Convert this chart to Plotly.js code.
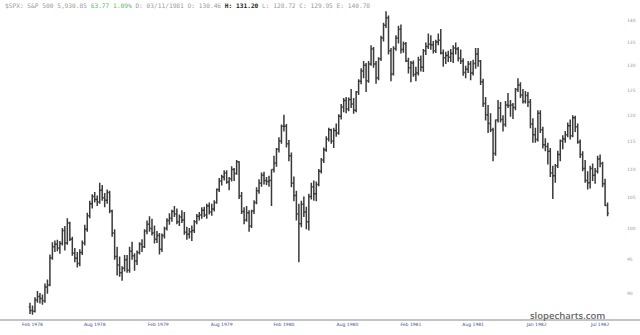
<!DOCTYPE html>
<html>
<head>
<meta charset="utf-8">
<script src="https://cdn.plot.ly/plotly-3.0.1.min.js"></script>
<style>html,body{margin:0;padding:0;background:#fff;}#chart{width:640px;height:335px;}</style>
</head>
<body>
<div id="chart"></div>
<script>
// Weekly OHLC of the S&P 500, week 0 = late Feb 1978
const openVals = [
88.0,87.5,87.4,89.0,89.5,89.2,88.9,90.9,91.2,95.3,
97.0,97.4,96.8,97.5,99.6,97.6,100.8,98.2,96.0,95.2,
94.4,96.1,97.6,99.8,102.0,104.0,105.2,104.7,104.3,106.3,
105.0,104.6,105.9,102.8,99.2,95.5,94.2,93.0,93.7,95.0,
93.4,96.3,95.6,94.8,96.1,97.4,97.0,99.5,100.6,99.9,
99.2,98.2,98.8,96.6,98.8,99.9,101.2,101.6,102.7,102.3,
101.0,101.8,101.3,99.3,99.0,99.4,99.6,101.0,101.9,102.1,
102.9,102.1,103.6,102.6,103.1,104.2,106.4,107.9,108.6,109.3,
107.7,108.3,109.9,109.2,111.3,105.3,102.7,101.3,102.5,100.3,
102.8,104.2,106.2,107.5,108.9,108.0,107.8,108.0,109.9,111.1,
113.6,115.1,117.9,117.9,114.6,112.4,107.5,105.4,102.3,100.7,
103.9,102.6,101.0,105.2,106.9,105.7,107.3,109.6,111.6,113.5,
115.5,117.2,115.1,117.1,116.6,119.8,121.6,122.9,121.2,123.1,
122.2,121.0,124.6,126.8,128.9,130.1,126.9,130.4,133.6,130.4,
127.5,131.5,136.0,138.8,140.5,133.2,128.3,133.7,136.0,137.9,
133.5,134.7,131.0,129.6,130.6,128.2,128.5,131.3,129.7,133.2,
134.1,134.6,134.5,133.2,135.1,135.5,132.7,131.7,132.2,131.8,
132.6,133.8,133.6,131.6,131.0,128.6,129.3,130.4,128.5,130.5,
132.5,131.0,126.7,122.3,120.1,118.4,117.2,112.8,119.1,121.4,
119.2,118.2,122.0,121.9,122.0,121.5,125.1,126.0,124.0,122.7,
123.9,122.6,118.3,116.3,115.4,120.4,117.2,114.4,114.1,113.2,
109.3,108.8,110.6,112.6,115.1,115.5,116.3,118.0,116.1,119.5,
117.8,114.9,112.6,110.1,108.0,107.6,110.1,108.9,109.6,111.8,
111.0,107.4,103.7];
const highVals = [
88.6,88.2,89.4,90.3,90.0,89.8,91.4,92.0,95.8,97.7,
98.0,98.1,97.9,100.0,100.3,101.6,101.0,98.6,96.8,96.2,
96.6,98.0,100.5,102.5,104.5,105.6,106.0,105.4,107.6,107.2,
105.8,106.4,106.2,103.0,99.8,97.0,95.5,94.0,95.7,95.7,
97.0,97.8,96.0,96.4,97.7,98.2,99.8,101.2,101.9,101.5,
100.4,99.5,99.2,99.1,100.2,101.6,102.4,103.0,103.6,103.2,
102.2,102.9,102.6,100.2,100.0,100.4,101.3,102.3,102.6,103.4,
103.5,104.0,104.2,104.0,104.6,106.6,108.4,109.0,109.8,109.8,
108.6,110.5,110.2,111.6,111.4,106.0,103.4,103.6,102.9,103.0,
104.6,106.8,108.2,109.4,109.5,108.6,108.8,109.9,112.4,113.8,
115.8,118.2,120.1,118.3,115.3,113.0,108.7,106.2,104.0,104.5,
105.2,103.5,105.7,107.6,108.0,107.8,110.0,112.0,113.9,116.0,
117.6,117.4,117.6,118.4,120.2,122.2,123.4,123.6,123.5,125.2,
123.4,124.8,127.2,129.5,131.0,130.6,131.0,134.4,134.0,131.0,
131.8,136.5,139.4,142.0,141.0,133.8,134.2,136.6,138.7,139.0,
135.2,135.1,131.7,131.0,131.1,129.8,131.9,132.2,133.6,135.0,
137.0,136.6,135.3,135.6,137.0,138.0,133.5,133.0,133.2,133.6,
134.4,135.0,134.0,133.5,131.6,130.0,131.0,131.0,131.3,133.8,
133.8,131.2,127.3,123.6,122.0,120.4,117.6,119.2,123.0,122.6,
120.0,122.8,124.4,123.0,122.4,125.4,127.4,126.6,125.2,124.8,
124.6,123.2,119.4,117.6,121.0,121.0,117.8,115.6,114.8,113.8,
110.6,110.9,113.3,115.4,116.2,117.0,118.6,119.2,120.0,119.9,
118.4,115.4,113.2,111.6,109.6,110.6,111.0,110.2,112.4,112.6,
111.3,108.3,104.2];
const lowVals = [
87.0,86.9,87.2,88.6,88.5,88.3,88.6,89.9,91.0,95.0,
96.2,96.3,95.9,97.2,96.4,97.3,97.9,95.6,94.6,93.8,
94.0,95.7,97.2,99.4,101.6,103.2,104.2,103.6,104.0,104.5,
103.4,104.0,102.4,98.6,95.0,92.6,92.4,91.8,93.2,93.0,
93.0,95.0,93.3,94.2,95.8,96.2,96.8,99.0,99.4,98.8,
97.5,97.6,95.8,96.2,98.3,99.6,100.5,101.0,101.8,100.6,
100.3,100.8,98.9,98.1,98.3,97.9,99.2,100.6,101.2,101.5,
101.8,101.5,102.2,102.0,102.7,104.0,106.0,107.1,108.0,107.4,
106.3,107.8,107.9,109.0,104.8,102.3,100.6,101.0,99.4,100.0,
102.3,103.9,105.7,106.9,107.3,107.2,106.9,103.6,109.4,110.4,
113.0,114.6,116.9,113.9,111.4,106.8,104.4,101.2,94.6,100.1,
101.8,99.8,99.6,104.7,104.5,104.4,107.0,109.2,111.1,113.1,
115.0,114.6,113.8,115.9,116.3,119.2,120.6,120.4,120.8,121.4,
120.3,120.6,124.0,126.2,127.4,124.6,126.5,130.0,129.6,126.3,
127.0,131.0,135.2,138.2,132.4,126.8,128.0,133.2,134.8,132.6,
132.8,130.8,128.4,126.6,127.7,126.8,128.0,128.8,128.7,132.3,
133.6,133.4,132.6,132.7,134.4,132.4,129.8,130.4,130.8,130.8,
130.6,132.4,130.9,130.4,127.9,127.4,128.5,127.0,128.0,129.4,
129.8,126.0,121.6,119.0,116.6,116.8,111.4,112.4,118.6,118.6,
116.9,117.8,121.4,119.7,119.3,121.0,124.6,123.4,122.3,122.3,
121.6,117.5,114.8,114.8,115.0,116.6,113.7,113.2,110.8,108.6,
104.8,107.6,110.2,111.4,113.6,114.8,115.8,115.4,115.8,116.8,
114.6,112.0,109.6,107.6,106.4,106.6,107.9,107.4,109.2,110.3,
106.8,103.6,101.9];
const closeVals = [
87.5,87.4,89.0,89.5,89.2,88.9,90.9,91.2,95.3,97.0,
97.4,96.8,97.5,99.6,97.6,100.8,98.2,96.0,95.2,94.4,
96.1,97.6,99.8,102.0,104.0,105.2,104.7,104.3,106.3,105.0,
104.6,105.9,102.8,99.2,95.5,94.2,93.0,93.7,95.0,93.4,
96.3,95.6,94.8,96.1,97.4,97.0,99.5,100.6,99.9,99.2,
98.2,98.8,96.6,98.8,99.9,101.2,101.6,102.7,102.3,101.0,
101.8,101.3,99.3,99.0,99.4,99.6,101.0,101.9,102.1,102.9,
102.1,103.6,102.6,103.1,104.2,106.4,107.9,108.6,109.3,107.7,
108.3,109.9,109.2,111.3,105.3,102.7,101.3,102.5,100.3,102.8,
104.2,106.2,107.5,108.9,108.0,107.8,108.0,109.9,111.1,113.6,
115.1,117.9,117.9,114.6,112.4,107.5,105.4,102.3,100.7,103.9,
102.6,101.0,105.2,106.9,105.7,107.3,109.6,111.6,113.5,115.5,
117.2,115.1,117.1,116.6,119.8,121.6,122.9,121.2,123.1,122.2,
121.0,124.6,126.8,128.9,130.1,126.9,130.4,133.6,130.4,127.5,
131.5,136.0,138.8,140.5,133.2,128.3,133.7,136.0,137.9,133.5,
134.7,131.0,129.6,130.6,128.2,128.5,131.3,129.7,133.2,134.1,
134.6,134.5,133.2,135.1,135.5,132.7,131.7,132.2,131.8,132.6,
133.8,133.6,131.6,131.0,128.6,129.3,130.4,128.5,130.5,132.5,
131.0,126.7,122.3,120.1,118.4,117.2,112.8,119.1,121.4,119.2,
118.2,122.0,121.9,122.0,121.5,125.1,126.0,124.0,122.7,123.9,
122.6,118.3,116.3,115.4,120.4,117.2,114.4,114.1,113.2,109.3,
108.8,110.6,112.6,115.1,115.5,116.3,118.0,116.1,119.5,117.8,
114.9,112.6,110.1,108.0,107.6,110.1,108.9,109.6,111.8,111.0,
107.4,103.7,102.4];

const xTickPos = [1, 26, 51.5, 77, 102, 127.5, 153, 178, 203.5, 229];
const xTickText = ['Feb 1978','Aug 1978','Feb 1979','Aug 1979','Feb 1980','Aug 1980','Feb 1981','Aug 1981','Jan 1982','Jul 1982'];
const yTickVals = [90, 95, 100, 105, 110, 115, 120, 125, 130, 135, 140];

const weekIdx = closeVals.map((_, i) => i);

const trace = {
  type: 'ohlc',
  x: weekIdx,
  open: openVals, high: highVals, low: lowVals, close: closeVals,
  increasing: {line: {color: '#3a3a3a', width: 1.5}},
  decreasing: {line: {color: '#3a3a3a', width: 1.5}},
  tickwidth: 0.5,
  hoverinfo: 'skip',
  showlegend: false
};

const header = "$SPX: S&P 500 5,930.85 <span style='color:#5cb85c'>63.77 1.09%</span> D: 03/11/1981 O: 130.46 <b><span style='color:#222'>H: 131.20</span></b> L: 128.72 C: 129.95 E: 140.78";

const layout = {
  width: 640, height: 335,
  margin: {l: 0, r: 14, t: 10, b: 15},
  paper_bgcolor: '#ffffff', plot_bgcolor: '#ffffff',
  showlegend: false,
  xaxis: {
    range: [-12.05, 239.4],
    tickmode: 'array', tickvals: xTickPos, ticktext: xTickText,
    showgrid: false, zeroline: false, showline: false, ticks: '',
    tickfont: {family: 'DejaVu Sans', size: 4.5, color: '#3b4f8f'},
    rangeslider: {visible: false}, fixedrange: true
  },
  yaxis: {
    type: 'log', side: 'right',
    range: [1.935318, 2.153155],
    tickmode: 'array', tickvals: yTickVals, ticktext: yTickVals.map(String),
    showgrid: false, zeroline: false, showline: false, ticks: '',
    tickfont: {family: 'DejaVu Sans', size: 4.5, color: '#999999'},
    fixedrange: true
  },
  shapes: [{
    type: 'line', xref: 'paper', yref: 'paper',
    x0: 0, x1: 640/626, y0: 0, y1: 0,
    line: {color: '#b0b0b0', width: 1.5}
  }],
  annotations: [
    {text: header, xref: 'paper', yref: 'paper', x: 0, xshift: 3, y: 1, yshift: 5,
     xanchor: 'left', yanchor: 'middle', showarrow: false, align: 'left',
     font: {family: 'DejaVu Sans Mono', size: 6.2, color: '#9a9a9a'}},
    {text: 'slopecharts.com', xref: 'paper', yref: 'paper', x: 607/626, y: 5/310,
     xanchor: 'right', yanchor: 'middle', showarrow: false,
     font: {family: 'Open Sans', size: 9.5, color: '#666666', weight: 600}}
  ]
};

Plotly.newPlot('chart', [trace], layout, {staticPlot: true, displayModeBar: false});
</script>
</body>
</html>
